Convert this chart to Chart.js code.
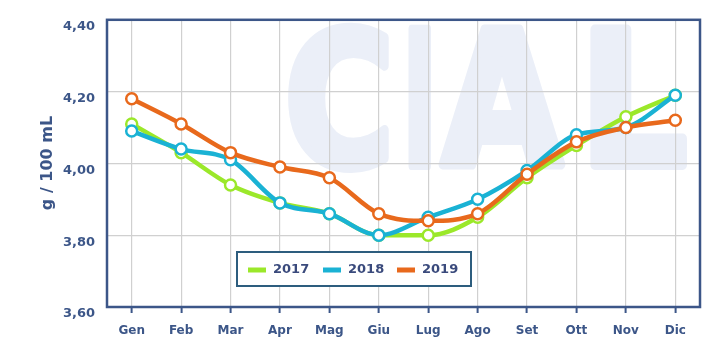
<!DOCTYPE html>
<html>
<head>
<meta charset="utf-8">
<script src="https://cdn.jsdelivr.net/npm/chart.js@4/dist/chart.umd.min.js"></script>
<style>
  html, body { margin: 0; padding: 0; background: #ffffff; }
  #wrap { width: 708px; height: 337px; position: relative; }
</style>
</head>
<body>
<div id="wrap"><canvas id="c" width="708" height="337"></canvas></div>
<script>
// Months
const months = ['Gen', 'Feb', 'Mar', 'Apr', 'Mag', 'Giu', 'Lug', 'Ago', 'Set', 'Ott', 'Nov', 'Dic'];

// Monthly values, g / 100 mL
const values2017 = [4.11, 4.03, 3.94, 3.89, 3.86, 3.80, 3.80, 3.85, 3.96, 4.05, 4.13, 4.19];
const values2018 = [4.09, 4.04, 4.01, 3.89, 3.86, 3.80, 3.85, 3.90, 3.98, 4.08, 4.10, 4.19];
const values2019 = [4.18, 4.11, 4.03, 3.99, 3.96, 3.86, 3.84, 3.86, 3.97, 4.06, 4.10, 4.12];

const seriesNames = ['2017', '2018', '2019'];
const yTicks = [3.6, 3.8, 4.0, 4.2, 4.4];

const COL_GREEN = '#9be82a';
const COL_BLUE = '#1ab2d4';
const COL_ORANGE = '#e8691c';
const COL_AXIS = '#3c5688';
const FONT = "'DejaVu Sans', Verdana, sans-serif";

function series(label, data, color, order) {
  return {
    label, data, order,
    borderColor: color,
    backgroundColor: '#ffffff',
    borderWidth: 4.5,
    cubicInterpolationMode: 'monotone',
    pointRadius: 5.5,
    pointBorderWidth: 2.5,
    pointBackgroundColor: '#ffffff',
    pointBorderColor: color,
    pointHoverRadius: 5.5
  };
}

// Faint "CIAL" logo behind the grid
const logoPlugin = {
  id: 'logo',
  beforeDraw(chart) {
    const ctx = chart.ctx;
    ctx.save();
    ctx.fillStyle = '#ebeff8';
    ctx.strokeStyle = '#ebeff8';
    ctx.lineWidth = 10;
    ctx.lineJoin = 'round';
    ctx.font = 'bold 186px ' + FONT;
    ctx.textBaseline = 'alphabetic';
    const letters = [['C', 292, 385], ['I', 411, 429], ['A', 442, 562], ['L', 595, 683]];
    const base = 165;
    letters.forEach(([ch, x0, x1]) => {
      const m = ctx.measureText(ch);
      const inkL = -m.actualBoundingBoxLeft;
      const inkW = m.actualBoundingBoxRight + m.actualBoundingBoxLeft;
      const sx = (x1 - x0) / inkW;
      ctx.save();
      ctx.translate(x0, base);
      ctx.scale(sx, 1);
      ctx.fillText(ch, -inkL, 0);
      ctx.strokeText(ch, -inkL, 0);
      ctx.restore();
    });
    ctx.restore();
  }
};

// Plot frame, y-axis title and inset legend
const framePlugin = {
  id: 'frame',
  beforeDatasetsDraw(chart) {
    const { ctx, chartArea: a } = chart;
    ctx.save();
    ctx.strokeStyle = COL_AXIS;
    ctx.lineWidth = 2.5;
    ctx.strokeRect(a.left, a.top, a.right - a.left, a.bottom - a.top);
    ctx.restore();
  },
  afterDraw(chart) {
    const ctx = chart.ctx;
    ctx.save();
    // axis title
    ctx.fillStyle = COL_AXIS;
    ctx.font = 'bold 16px ' + FONT;
    ctx.textAlign = 'center';
    ctx.textBaseline = 'middle';
    ctx.translate(48, 163);
    ctx.rotate(-Math.PI / 2);
    ctx.fillText('g / 100 mL', 0, 0);
    ctx.restore();

    // legend box
    ctx.save();
    const bx = 237, by = 252, bw = 234, bh = 34;
    ctx.fillStyle = '#ffffff';
    ctx.fillRect(bx, by, bw, bh);
    ctx.strokeStyle = '#2d5d7e';
    ctx.lineWidth = 2;
    ctx.strokeRect(bx, by, bw, bh);
    ctx.font = 'bold 13px ' + FONT;
    ctx.textBaseline = 'middle';
    ctx.textAlign = 'left';
    const cy = by + bh / 2 + 1;
    const swatchX = [248, 323, 397];
    chart.data.datasets.forEach((ds, i) => {
      ctx.fillStyle = ds.borderColor;
      ctx.fillRect(swatchX[i], cy - 2.5, 18, 5);
      ctx.fillStyle = '#3a4a7c';
      ctx.fillText(seriesNames[i], swatchX[i] + 25, cy);
    });
    ctx.restore();
  }
};

new Chart(document.getElementById('c'), {
  type: 'line',
  data: {
    labels: months,
    datasets: [
      series(seriesNames[0], values2017, COL_GREEN, 3),
      series(seriesNames[1], values2018, COL_BLUE, 2),
      series(seriesNames[2], values2019, COL_ORANGE, 1)
    ]
  },
  options: {
    responsive: false,
    animation: false,
    events: [],
    layout: { padding: { top: 19, right: 8, left: 0, bottom: 0 } },
    plugins: {
      legend: { display: false },
      tooltip: { enabled: false },
      title: { display: false }
    },
    scales: {
      x: {
        type: 'category',
        offset: true,
        border: { display: false },
        grid: {
          offset: false,
          color: '#d0d0d0',
          lineWidth: 1.2,
          drawTicks: true,
          tickLength: 6,
          tickColor: COL_AXIS,
          tickWidth: 2
        },
        ticks: {
          color: COL_AXIS,
          font: { family: FONT, size: 12, weight: 'bold' },
          padding: 11,
          maxRotation: 0,
          autoSkip: false
        },
        afterFit(s) { s.height = 30; }
      },
      y: {
        min: 3.6,
        max: 4.4,
        border: { display: false },
        grid: { color: '#d0d0d0', lineWidth: 1.2, drawTicks: false },
        ticks: {
          stepSize: 0.2,
          padding: 12,
          labelOffset: 7,
          color: COL_AXIS,
          font: { family: FONT, size: 13, weight: 'bold' },
          callback: (v) => {
            const t = yTicks.find(k => Math.abs(k - v) < 1e-6);
            return t === undefined ? '' : t.toFixed(2).replace('.', ',');
          }
        },
        afterFit(s) { s.width = 107; }
      }
    }
  },
  plugins: [logoPlugin, framePlugin]
});
</script>
</body>
</html>
